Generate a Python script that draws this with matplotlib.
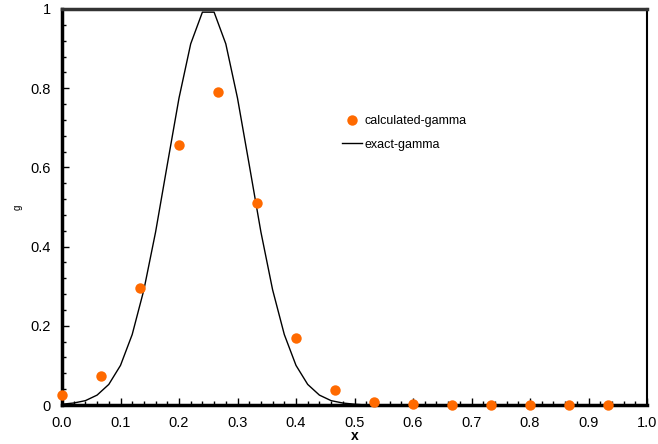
import matplotlib
matplotlib.use('Agg')
import matplotlib.pyplot as plt
from matplotlib.ticker import MultipleLocator, FixedLocator

plt.rcParams['font.family'] = ['Liberation Sans', 'DejaVu Sans']

# exact gamma, sampled every 0.02
exact_x = [0.00, 0.02, 0.04, 0.06, 0.08, 0.10, 0.12, 0.14, 0.16, 0.18, 0.20, 0.22, 0.24,
           0.26, 0.28, 0.30, 0.32, 0.34, 0.36, 0.38, 0.40, 0.42, 0.44, 0.46, 0.48, 0.50,
           0.52, 0.60, 0.70, 0.80, 0.90, 1.00]
exact_g = [0.002, 0.005, 0.011, 0.025, 0.052, 0.100, 0.178, 0.291, 0.437, 0.607, 0.775, 0.912, 0.992,
           0.992, 0.912, 0.775, 0.607, 0.437, 0.291, 0.178, 0.100, 0.052, 0.025, 0.011, 0.005, 0.002,
           0.0, 0.0, 0.0, 0.0, 0.0, 0.0]

# calculated gamma
calc_x = [0.0, 0.0667, 0.1333, 0.2, 0.2667, 0.3333, 0.4, 0.4667, 0.5333, 0.6, 0.6667,
          0.7333, 0.8, 0.8667, 0.9333]
calc_g = [0.025, 0.074, 0.296, 0.657, 0.790, 0.509, 0.170, 0.038, 0.008, 0.002, 0.001,
          0.001, 0.001, 0.001, 0.001]

x_ticks = [0.0, 0.1, 0.2, 0.3, 0.4, 0.5, 0.6, 0.7, 0.8, 0.9, 1.0]
x_tick_labels = ['0.0', '0.1', '0.2', '0.3', '0.4', '0.5', '0.6', '0.7', '0.8', '0.9', '1.0']
y_ticks = [0, 0.2, 0.4, 0.6, 0.8, 1.0]
y_tick_labels = ['0', '0.2', '0.4', '0.6', '0.8', '1']

fig = plt.figure(figsize=(6.58, 4.44), dpi=100)
ax = fig.add_axes([62 / 658, 1 - 405 / 444, (647 - 62) / 658, (405 - 9) / 444])

ax.plot(exact_x, exact_g, color='black', lw=1.0, label='exact-gamma', zorder=3)
ax.plot(calc_x, calc_g, 'o', color='#ff6a00', ms=7.5, mec='none',
        label='calculated-gamma', clip_on=False, zorder=5)

ax.set_xlim(0, 1.0)
ax.set_ylim(0, 1.0)
ax.xaxis.set_major_locator(FixedLocator(x_ticks))
ax.set_xticklabels(x_tick_labels)
ax.yaxis.set_major_locator(FixedLocator(y_ticks))
ax.set_yticklabels(y_tick_labels)
ax.xaxis.set_minor_locator(MultipleLocator(0.02))
ax.yaxis.set_minor_locator(MultipleLocator(0.04))
ax.tick_params(which='both', direction='in', labelsize=10.5, top=False, right=False, pad=8)
ax.tick_params(which='major', length=5, width=1)
ax.tick_params(which='minor', length=3, width=1)

ax.spines['left'].set_linewidth(2.5)
ax.spines['bottom'].set_linewidth(2.5)
ax.spines['top'].set_linewidth(2.5)
ax.spines['top'].set_color('#333333')
ax.spines['right'].set_linewidth(1.5)

ax.set_xlabel('x', fontsize=10, fontweight='bold')
ax.xaxis.set_label_coords(0.5, -(436 - 405) / 396, transform=ax.transAxes)
ax.xaxis.label.set_va('center')
ax.set_ylabel('g', fontsize=7)
ax.yaxis.set_label_coords(-(62 - 18) / 585, 0.5)
ax.yaxis.label.set_va('center')

handles, labels = ax.get_legend_handles_labels()
ax.legend(handles[::-1], labels[::-1], loc='upper left', bbox_to_anchor=(0.46, 0.76),
          frameon=False, fontsize=9, handlelength=1.6, handletextpad=0.2, labelspacing=0.9)

plt.savefig('out.png', dpi=100)
